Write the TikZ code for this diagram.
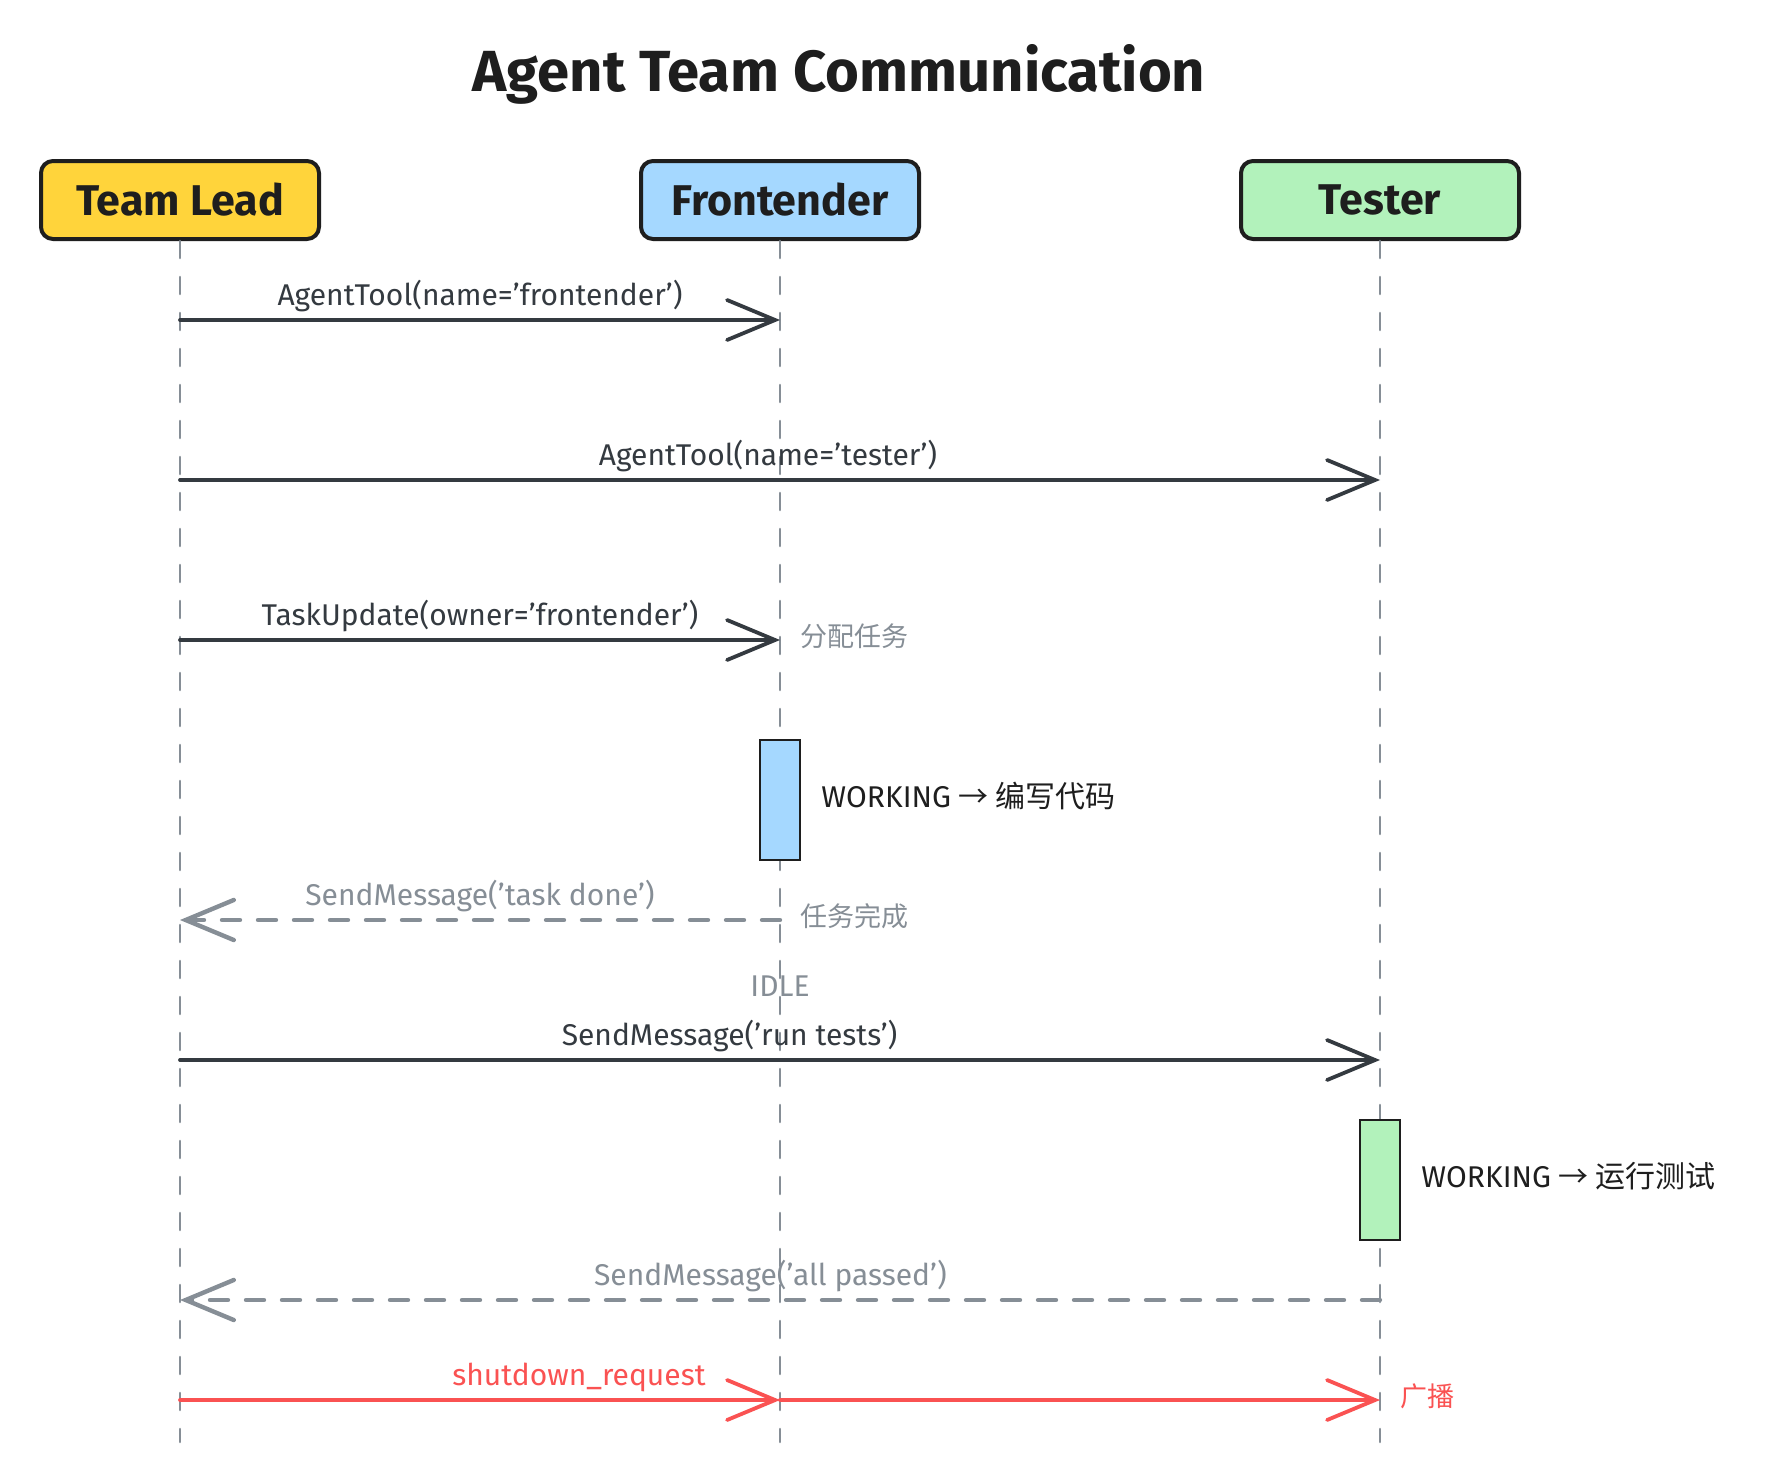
\documentclass[tikz,border=0pt]{standalone}
\usepackage{fontspec}
\setmainfont{Fira Sans}
\newfontfamily\cjk{Noto Sans CJK SC}
\usetikzlibrary{positioning,arrows.meta}
\definecolor{ink}{HTML}{1E1E1E}
\definecolor{msgdark}{HTML}{343A40}
\definecolor{slate}{HTML}{868E96}
\definecolor{alarm}{HTML}{FA5252}
\definecolor{leadfill}{HTML}{FFD43B}
\definecolor{frontfill}{HTML}{A5D8FF}
\definecolor{testfill}{HTML}{B2F2BB}

\begin{document}
\begin{tikzpicture}[x=1pt, y=-1pt,
  actor/.style={draw=ink, line width=4pt, rounded corners=12pt, minimum width=278pt, minimum height=78pt, font=\fontsize{43}{48}\selectfont\bfseries, text=ink},
  life/.style={draw=slate, line width=2.6pt, line cap=round, dash pattern=on 17pt off 19pt},
  msg/.style={line width=3.8pt, draw=msgdark, line cap=round, -{Straight Barb[length=48pt, width=40pt, line cap=round]}},
  ret/.style={msg, draw=slate, line width=4.4pt, dash pattern=on 18pt off 18pt},
  halt/.style={msg, draw=alarm},
  lbl/.style={above=6pt, font=\fontsize{30}{34}\selectfont, text=msgdark, inner sep=0pt},
  aside/.style={font=\cjk\fontsize{27}{32}\selectfont, text=slate, inner sep=0pt},
  state/.style={font=\fontsize{30}{34}\selectfont, text=ink, inner sep=0pt},
  busy/.style={draw=ink, line width=2.4pt, minimum width=40pt, minimum height=120pt, inner sep=0pt}]
\fill[white] (0,0) rectangle (1780,1480);
\useasboundingbox (0,0) rectangle (1780,1480);

% title and actors
\node[font=\fontsize{58}{64}\selectfont\bfseries, text=ink] (title) at (839,74) {Agent Team Communication};
\node[actor, fill=leadfill]  (lead)   at (180,200)  {Team Lead};
\node[actor, fill=frontfill] (front)  at (780,200)  {Frontender};
\node[actor, fill=testfill]  (tester) at (1380,200) {Tester};

% lifelines
\coordinate (floor) at (0,1442);
\draw[life] (lead.south)   -- (lead.south |- floor);
\draw[life] (front.south)  -- (front.south |- floor);
\draw[life] (tester.south) -- (tester.south |- floor);

% message rows
\foreach \n/\y in {1/320,2/480,3/640,4/920,5/1060,6/1300,7/1400} {
  \coordinate (l\n) at (180,\y);
  \coordinate (f\n) at (780,\y);
  \coordinate (t\n) at (1380,\y);
}

\draw[msg] (l1) -- node[lbl] {AgentTool(name='frontender')} (f1);
\draw[msg] (l2) -- node[lbl, pos=0.49] {AgentTool(name='tester')} (t2);
\draw[msg] (l3) -- node[lbl] {TaskUpdate(owner='frontender')} (f3);
\node[aside, right=20pt of f3, yshift=4pt] (assign) {分配任务};

% frontender working
\node[busy, fill=frontfill] (work1) at (780,800) {};
\node[state, right=20pt of work1, yshift=4pt] (code) {WORKING {\cjk → 编写代码}};

\draw[ret] (f4) -- node[lbl, text=slate] {SendMessage('task done')} (l4);
\node[aside, right=20pt of f4, yshift=4pt] (done) {任务完成};
\node[state, text=slate] (idle) at (780,986) {IDLE};

\draw[msg] (l5) -- node[lbl, pos=0.458] {SendMessage('run tests')} (t5);

% tester working
\node[busy, fill=testfill] (work2) at (1380,1180) {};
\node[state, right=20pt of work2, yshift=4pt] (test) {WORKING {\cjk → 运行测试}};

\draw[ret] (t6) -- node[lbl, text=slate, pos=0.508] {SendMessage('all passed')} (l6);

% broadcast
\draw[halt] (l7) -- node[lbl, text=alarm, pos=0.665] {shutdown\_request} (f7);
\draw[halt] (f7) -- (t7);
\node[aside, text=alarm, right=20pt of t7, yshift=4pt] (cast) {广播};
\end{tikzpicture}
\end{document}
